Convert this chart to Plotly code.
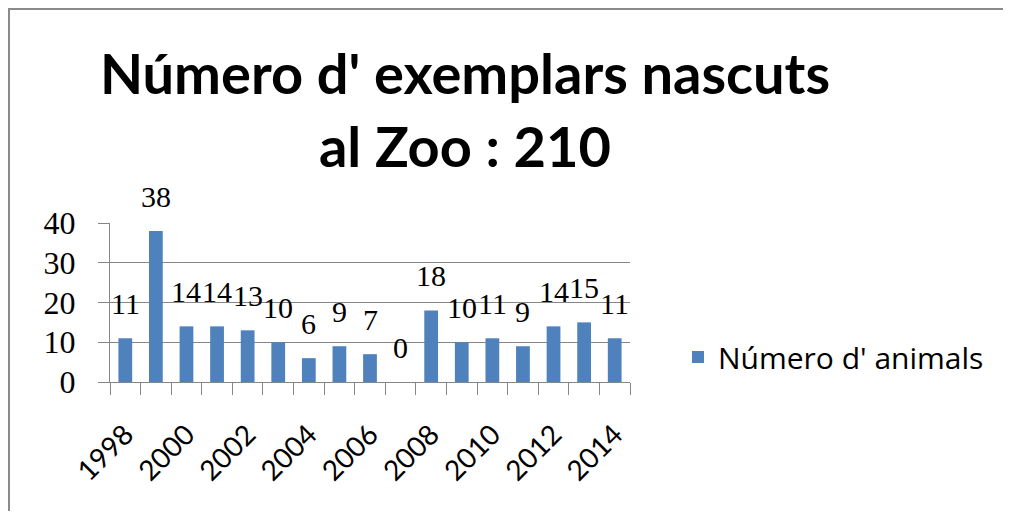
import plotly.graph_objects as go

years = [str(y) for y in range(1998, 2015)]
values = [11, 38, 14, 14, 13, 10, 6, 9, 7, 0, 18, 10, 11, 9, 14, 15, 11]
tick_labels = [y if int(y) % 2 == 0 else "" for y in years]
series_name = "Número d' animals"
title_text = "Número d' exemplars nascuts<br>al Zoo : 210"

OFF = 8  # page body margin offset
W, H = 1012 - 2 * OFF, 529 - 2 * OFF - 10
# plot area in page pixels: x 110..630, y 223..382
ML, MT = 110 - OFF, 223 - OFF
PW, PH = 520, 159
MR, MB = W - ML - PW, H - MT - PH

def px_x(px):
    return (px - OFF - ML) / PW

def px_y(py):
    return (MT + PH - (py - OFF)) / PH

bar_color = "#4F81BD"
grid_color = "#868686"

fig = go.Figure()
fig.add_trace(go.Bar(
    x=years, y=values, name=series_name,
    marker=dict(color=bar_color, line=dict(width=0)),
    showlegend=True,
))

for i, v in enumerate(values):
    fig.add_annotation(
        x=i, y=v, text=str(v), showarrow=False,
        xref="x", yref="y", yanchor="bottom", yshift=16,
        font=dict(family="Liberation Serif", size=30, color="black"),
    )

border_color = "#8a8a8a"
fig.add_shape(type="line", xref="paper", yref="paper",
              x0=px_x(8), y0=px_y(9), x1=px_x(OFF + W - 1), y1=px_y(9),
              line=dict(color=border_color, width=2))
fig.add_shape(type="line", xref="paper", yref="paper",
              x0=px_x(9), y0=px_y(8), x1=px_x(9), y1=px_y(OFF + H),
              line=dict(color=border_color, width=2))

fig.update_layout(
    width=W, height=H,
    margin=dict(l=ML, r=MR, t=MT, b=MB),
    paper_bgcolor="white", plot_bgcolor="white",
    bargap=0.55,
    title=dict(text=title_text, x=(465 - OFF) / W, xanchor="center", xref="container",
               y=1 - 86 / H, yanchor="top", yref="container",
               font=dict(family="Lato", size=56, color="black", weight="bold")),
    legend=dict(x=px_x(678), y=px_y(357), xanchor="left", yanchor="middle",
                font=dict(family="Open Sans", size=30, color="black"),
                bgcolor="rgba(0,0,0,0)"),
    xaxis=dict(type="category", tickson="boundaries", ticks="outside", ticklen=12,
               tickcolor=grid_color, showline=True, linecolor=grid_color, linewidth=1,
               tickvals=years, ticktext=tick_labels, tickangle=-45,
               ticklabelstandoff=24,
               tickfont=dict(family="Lato", size=28, color="black"),
               showgrid=False, range=[-0.5, len(years) - 0.5]),
    yaxis=dict(range=[0, 40], dtick=10, tick0=0, ticks="outside", ticklen=11,
               tickcolor=grid_color, showline=True, linecolor=grid_color, linewidth=1,
               showgrid=True, gridcolor=grid_color, gridwidth=1, zeroline=False,
               ticklabelstandoff=16,
               tickfont=dict(family="Liberation Serif", size=32, color="black")),
)

fig.write_html("out.html")
